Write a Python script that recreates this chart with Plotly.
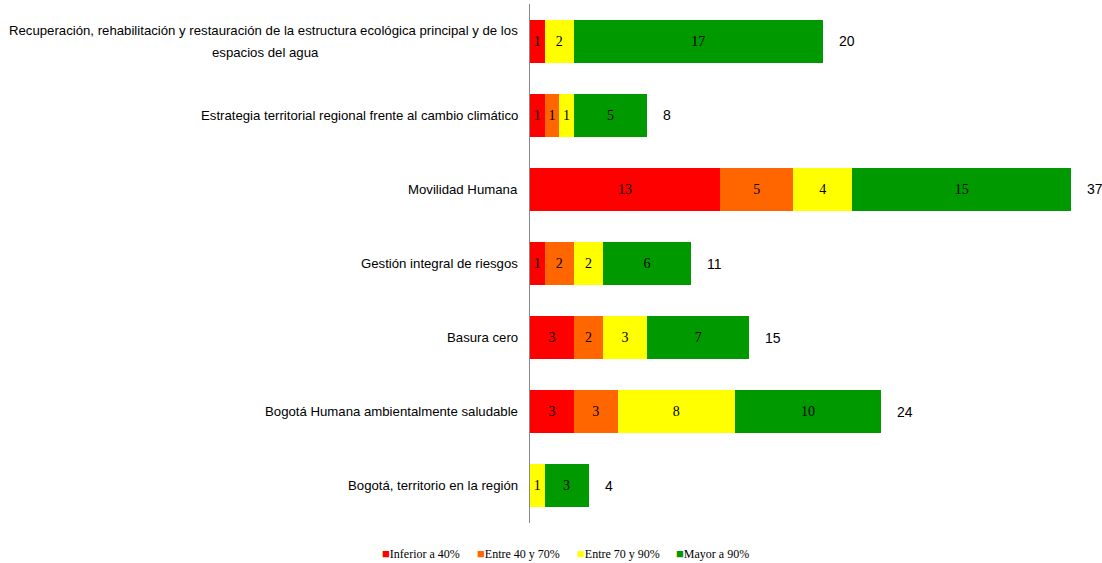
import plotly.graph_objects as go

categories = [
    "Recuperación, rehabilitación y restauración de la estructura ecológica principal y de los<br>espacios del agua",
    "Estrategia territorial regional frente al cambio climático",
    "Movilidad Humana",
    "Gestión integral de riesgos",
    "Basura cero",
    "Bogotá Humana ambientalmente saludable",
    "Bogotá, territorio en la región",
]
series_names = ["Inferior a 40%", "Entre 40 y 70%", "Entre 70 y 90%", "Mayor a 90%"]
inferior_40 = [1, 1, 13, 1, 3, 3, 0]
entre_40_70 = [0, 1, 5, 2, 2, 3, 0]
entre_70_90 = [2, 1, 4, 2, 3, 8, 1]
mayor_90 = [17, 5, 15, 6, 7, 10, 3]
totals = [20, 8, 37, 11, 15, 24, 4]

colors = ["#FF0000", "#FF6600", "#FFFF00", "#009900"]
series = [inferior_40, entre_40_70, entre_70_90, mayor_90]

W, H = 1102, 563
L, R, T, B = 530, 16, 4, 40
plot_w = W - L - R
plot_h = H - T - B

fig = go.Figure()
for name, vals, col in zip(series_names, series, colors):
    fig.add_trace(go.Bar(
        y=list(range(len(categories))), x=vals, name=name, orientation="h",
        marker=dict(color=col, line=dict(width=0)),
        text=[str(v) if v else "" for v in vals],
        textposition="inside", insidetextanchor="middle", textangle=0,
        textfont=dict(family="Liberation Serif, Times New Roman, serif", size=14, color="black"),
        constraintext="none",
        hoverinfo="skip",
        showlegend=False,
    ))

annotations = []
line_gap = 22
first_line_width = 509  # approx rendered width of the long first line (px)
label_font = dict(family="Liberation Sans, Arial, sans-serif", size=13.2, color="black")
for i, (cat, tot) in enumerate(zip(categories, totals)):
    annotations.append(dict(
        x=tot, y=i, xref="x", yref="y", text=str(tot), showarrow=False,
        xanchor="left", xshift=14,
        font=dict(family="Liberation Sans, Arial, sans-serif", size=14, color="black"),
    ))
    lines = cat.split("<br>")
    n = len(lines)
    for k, line in enumerate(lines):
        ys = ((n - 1) / 2 - k) * line_gap
        if k == 0:
            annotations.append(dict(
                x=0, y=i, xref="paper", yref="y", text=line, showarrow=False,
                xanchor="right", xshift=-10, yshift=ys, font=label_font))
        else:
            annotations.append(dict(
                x=0, y=i, xref="paper", yref="y", text=line, showarrow=False,
                xanchor="center", xshift=-10 - first_line_width / 2, yshift=ys,
                font=label_font))

# manual legend (small squares right next to the text)
legend_px = [380, 475, 575, 674]
for name, col, px in zip(series_names, colors, legend_px):
    annotations.append(dict(
        x=(px - L) / plot_w, y=(T + plot_h - 553) / plot_h, xref="paper", yref="paper",
        xanchor="left", yanchor="middle", showarrow=False,
        text=f'<span style="color:{col};font-size:13px">■</span>{name}',
        font=dict(family="Liberation Serif, Times New Roman, serif", size=12, color="black"),
    ))

fig.update_layout(
    width=W, height=H,
    barmode="stack", bargap=0.42,
    margin=dict(l=L, r=R, t=T, b=B, autoexpand=False),
    plot_bgcolor="white", paper_bgcolor="white",
    xaxis=dict(range=[0, 38], showgrid=False, showticklabels=False, zeroline=False,
               showline=False, ticks=""),
    yaxis=dict(range=[6.5, -0.5], showgrid=False, showticklabels=False, zeroline=False,
               showline=True, linecolor="#888888", linewidth=1, ticks=""),
    showlegend=False,
    annotations=annotations,
)

fig.write_html("out.html", config={"displayModeBar": False},
               post_script="document.body.style.margin='0';")
